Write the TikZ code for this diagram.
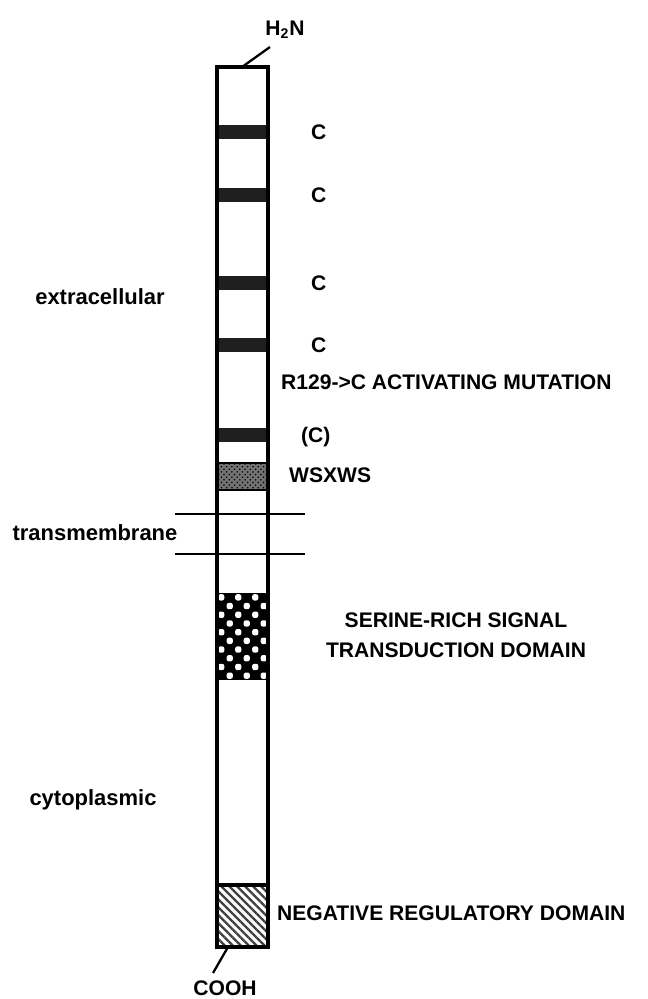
\documentclass[tikz,border=0pt]{standalone}
\usepackage{fontspec}
\setmainfont{Liberation Sans}
\usetikzlibrary{patterns, patterns.meta}

\begin{document}
\begin{tikzpicture}[
    x=0.02cm, y=0.02cm,
    outline/.style={draw=black, line width=1.8pt},
    band/.style={fill=black!88},
    memline/.style={draw=black, line width=1pt},
    link/.style={draw=black, line width=1.3pt},
    lab/.style={font=\fontsize{12}{17}\selectfont\bfseries, inner sep=1pt},
    region/.style={font=\fontsize{12.5}{15}\selectfont\bfseries, inner sep=1pt}
]

\useasboundingbox (0,0) rectangle (647,-999);

% -------------------------
% Receptor chain
% -------------------------

% cysteine bands
\foreach \y in {125,188,276,338,428}
    \fill[band] (217,-\y) rectangle (268,-\y-14);

% WSXWS box
\fill[black!55] (217,-463) rectangle (268,-490);
\fill[pattern=crosshatch dots, pattern color=black] (217,-463) rectangle (268,-490);
\draw[line width=1.2pt] (217,-463) rectangle (268,-490);

% serine-rich domain (checker)
\fill[black] (217,-593) rectangle (268,-680);
\foreach \i in {0,...,5}
    \foreach \j in {0,...,9} {
        \pgfmathtruncatemacro{\cellpar}{mod(\i+\j,2)}
        \ifnum\cellpar=0
            \fill[white, rounded corners=1.2pt] ({217+8.5*\i+1.2},{-593-8.7*\j-1.2}) rectangle ++(6.1,-6.3);
        \fi
    }

% negative regulatory domain (hatched)
\fill[pattern={Lines[angle=-45, distance=3.2pt, line width=1.3pt]}, pattern color=black!75] (217,-885) rectangle (268,-947);
\draw[outline] (217,-885) -- (268,-885);

% outline of the chain
\draw[outline] (217,-67) rectangle (268,-947);

% membrane
\draw[memline] (175,-514) -- (305,-514);
\draw[memline] (175,-554) -- (305,-554);

% ends of the chain
\coordinate (nterm) at (242,-67);
\coordinate (ntail) at (270,-47);
\coordinate (cterm) at (228,-947);
\coordinate (ctail) at (213,-973);

% -------------------------
% Labels
% -------------------------
\node[lab] (h2n) at (285,-30) {H\textsubscript{2}N};
\node[lab] (cooh) at (225,-988) {COOH};

\foreach \y/\n in {132/cysA, 195/cysB, 283/cysC, 345/cysD}
    \node[lab, anchor=west] (\n) at (309,-\y) {C};
\node[lab, anchor=west] (mut) at (279,-382) {R129->C ACTIVATING MUTATION};
\node[lab, anchor=west] (cysE) at (299,-437) {(C)};
\node[lab, anchor=west] (wsxws) at (287,-475) {WSXWS};
\node[lab, align=center] (serine) at (456,-635) {SERINE-RICH SIGNAL\\TRANSDUCTION DOMAIN};
\node[lab, anchor=west] (negreg) at (275,-913) {NEGATIVE REGULATORY DOMAIN};

\node[region] (extra) at (100,-297) {extracellular};
\node[region] (tm) at (95,-533) {transmembrane};
\node[region] (cyto) at (93,-800) {cytoplasmic};

% connectors to the termini
\draw[link] (nterm) -- (ntail);
\draw[link] (cterm) -- (ctail);

\end{tikzpicture}
\end{document}
